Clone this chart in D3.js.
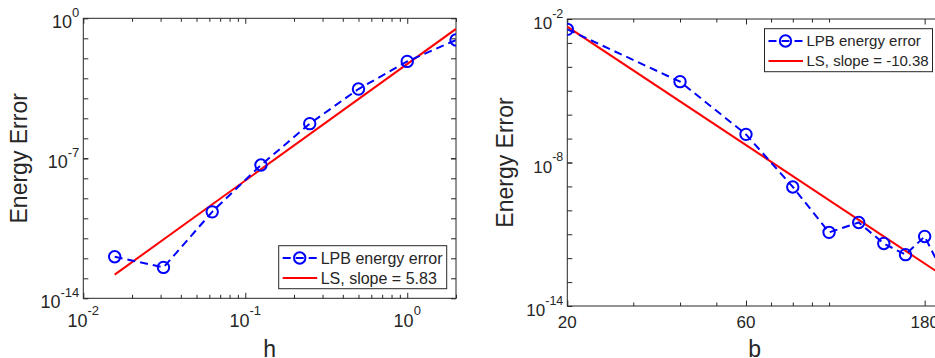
<!DOCTYPE html>
<html>
<head>
<meta charset="utf-8">
<script src="https://cdn.jsdelivr.net/npm/d3@7"></script>
<style>
  body { margin: 0; background: #fff; }
  svg { display: block; }
  text { font-family: "Liberation Sans", Arial, Helvetica, sans-serif; fill: #262626; }
</style>
</head>
<body>
<div id="chart"></div>
<script>
// ---- data ----
const hValues = [1 / 64, 1 / 32, 1 / 16, 1 / 8, 1 / 4, 1 / 2, 1, 2];
const hErrors = [1.2e-12, 3.5e-13, 2.1e-10, 4.6e-8, 5.4e-6, 2.9e-4, 7.0e-3, 8.2e-2];
const hFit = { slope: 5.83, intercept: -2.285 };   // log10(E) = slope*log10(h) + intercept

const bValues = [20, 40, 60, 80, 100, 120, 140, 160, 180, 200];
const bErrors = [3.7e-3, 2.4e-5, 1.5e-7, 9.5e-10, 1.2e-11, 3.1e-11, 4.1e-12, 1.4e-12, 8.1e-12, 3.0e-13];
const bFit = { slope: -10.38, intercept: 11.185 };

const hTicks = [0.01, 0.1, 1];
const hMinorTicks = [0.02, 0.03, 0.04, 0.05, 0.06, 0.07, 0.08, 0.09, 0.2, 0.3, 0.4, 0.5, 0.6, 0.7, 0.8, 0.9, 2];
const bTicks = [20, 60, 180];
const bMinorTicks = [30, 40, 50, 70, 80, 90, 100, 200];
const hYTicks = [1, 1e-7, 1e-14];
const bYTicks = [1e-2, 1e-8, 1e-14];
const hYMinor = d3.range(-13, 0).map(e => Math.pow(10, e));
const bYMinor = d3.range(-13, -2).map(e => Math.pow(10, e));

const width = 935,
  height = 358;
const axisColor = "#262626",
  dataColor = "#0000ff",
  fitColor = "#ff0000";

const svg = d3.select("#chart")
  .append("svg")
  .attr("width", width)
  .attr("height", height);

function superLabel(sel, exponent, size) {
  sel.append("tspan").text("10");
  sel.append("tspan")
    .attr("font-size", size)
    .attr("dy", -11.5)
    .text(exponent);
}

function drawPanel(p) {
  const x = d3.scaleLog().domain(p.xDomain).range([p.left, p.right]);
  const y = d3.scaleLog().domain(p.yDomain).range([p.bottom, p.top]);
  const g = svg.append("g");

  // clip to the axes box
  g.append("clipPath")
    .attr("id", p.id + "-clip")
    .append("rect")
    .attr("x", p.left)
    .attr("y", p.top)
    .attr("width", p.right - p.left)
    .attr("height", p.bottom - p.top);

  // tick marks, pointing inwards, mirrored on all four sides
  const ticks = (axis, scale, values, size, transform) => {
    g.append("g")
      .attr("transform", transform)
      .call(axis(scale).tickValues(values).tickSize(size).tickFormat(""))
      .call(s => s.select(".domain").remove())
      .selectAll("line")
      .attr("stroke", axisColor);
  };
  ticks(d3.axisBottom, x, p.xTicks, -5.5, `translate(0,${p.bottom})`);
  ticks(d3.axisBottom, x, p.xMinor, -3.5, `translate(0,${p.bottom})`);
  ticks(d3.axisTop, x, p.xTicks, -5.5, `translate(0,${p.top})`);
  ticks(d3.axisTop, x, p.xMinor, -3.5, `translate(0,${p.top})`);
  ticks(d3.axisLeft, y, p.yTicks.concat(p.yMinor), -5, `translate(${p.left},0)`);
  ticks(d3.axisRight, y, p.yTicks.concat(p.yMinor), -5, `translate(${p.right},0)`);

  g.append("rect")
    .attr("x", p.left)
    .attr("y", p.top)
    .attr("width", p.right - p.left)
    .attr("height", p.bottom - p.top)
    .attr("fill", "none")
    .attr("stroke", axisColor)
    .attr("stroke-width", 1);

  // y tick labels
  p.yTicks.forEach(v => {
    g.append("text")
      .attr("x", p.left - 4)
      .attr("y", y(v) + 10)
      .attr("text-anchor", "end")
      .attr("font-size", p.tickSize)
      .call(superLabel, String(Math.round(Math.log10(v))), p.supSize);
  });

  // x tick labels
  p.xTicks.forEach(v => {
    const t = g.append("text")
      .attr("x", x(v))
      .attr("text-anchor", "middle")
      .attr("font-size", p.tickSize);
    if (p.xPower) {
      t.attr("y", p.bottom + 28.5).call(superLabel, String(Math.round(Math.log10(v))), p.supSize);
    } else {
      t.attr("y", p.bottom + 22.3).text(v);
    }
  });

  // axis titles
  g.append("text")
    .attr("x", (p.left + p.right) / 2)
    .attr("y", 357)
    .attr("text-anchor", "middle")
    .attr("font-size", 23)
    .text(p.xLabel);

  g.append("text")
    .attr("transform", `translate(${p.yLabelX},${(p.top + p.bottom) / 2}) rotate(-90)`)
    .attr("text-anchor", "middle")
    .attr("font-size", 23)
    .text("Energy Error");

  // data and fit
  const plot = g.append("g").attr("clip-path", `url(#${p.id}-clip)`);
  const pts = p.xs.map((v, i) => [v, p.ys[i]]);
  const line = d3.line().x(d => x(d[0])).y(d => y(d[1]));

  const fitEnds = [p.xs[0], p.xs[p.xs.length - 1]]
    .map(v => [v, Math.pow(10, p.fit.slope * Math.log10(v) + p.fit.intercept)]);

  plot.append("path")
    .attr("d", line(fitEnds))
    .attr("fill", "none")
    .attr("stroke", fitColor)
    .attr("stroke-width", 2);

  plot.append("path")
    .attr("d", line(pts))
    .attr("fill", "none")
    .attr("stroke", dataColor)
    .attr("stroke-width", 2)
    .attr("stroke-dasharray", "8,5");

  plot.selectAll("circle")
    .data(pts)
    .join("circle")
    .attr("cx", d => x(d[0]))
    .attr("cy", d => y(d[1]))
    .attr("r", 5.7)
    .attr("fill", "none")
    .attr("stroke", dataColor)
    .attr("stroke-width", 2);

  // legend
  const lw = 168, lh = 43;
  const lx = p.right - 9.3 - lw;
  const ly = p.legendTop ? p.top + 9.7 : p.bottom - 9.6 - lh;
  const leg = g.append("g").attr("transform", `translate(${lx},${ly})`);
  leg.append("rect")
    .attr("width", lw)
    .attr("height", lh)
    .attr("fill", "#fff")
    .attr("stroke", axisColor)
    .attr("stroke-width", 1);

  const rows = [
    { label: "LPB energy error", color: dataColor, dash: "8,5", marker: true },
    { label: `LS, slope = ${p.fit.slope.toFixed(2)}`, color: fitColor, dash: null, marker: false }
  ];
  rows.forEach((r, i) => {
    const ry = 12.3 + i * 20;
    leg.append("line")
      .attr("x1", 4)
      .attr("x2", 38.5)
      .attr("y1", ry)
      .attr("y2", ry)
      .attr("stroke", r.color)
      .attr("stroke-width", 2)
      .attr("stroke-dasharray", r.dash);
    if (r.marker) {
      leg.append("circle")
        .attr("cx", 21)
        .attr("cy", ry)
        .attr("r", 5.7)
        .attr("fill", "none")
        .attr("stroke", r.color)
        .attr("stroke-width", 2);
    }
    leg.append("text")
      .attr("x", 42)
      .attr("y", ry)
      .attr("dy", "0.36em")
      .attr("font-size", p.legendSize)
      .text(r.label);
  });
}

drawPanel({
  id: "h",
  xs: hValues, ys: hErrors, fit: hFit,
  xDomain: [0.01, 2], yDomain: [1e-14, 1],
  left: 83.3, right: 456, top: 18.3, bottom: 298.3,
  xTicks: hTicks, xMinor: hMinorTicks, yTicks: hYTicks, yMinor: hYMinor,
  xPower: true, xLabel: "h", yLabelX: 27, legendTop: false,
  tickSize: 18, supSize: 13, legendSize: 16
});

drawPanel({
  id: "b",
  xs: bValues, ys: bErrors, fit: bFit,
  xDomain: [20, 200], yDomain: [1e-14, 1e-2],
  left: 567.3, right: 941.8, top: 19, bottom: 306,
  xTicks: bTicks, xMinor: bMinorTicks, yTicks: bYTicks, yMinor: bYMinor,
  xPower: false, xLabel: "b", yLabelX: 512.5, legendTop: true,
  tickSize: 17, supSize: 12.5, legendSize: 15
});
</script>
</body>
</html>
